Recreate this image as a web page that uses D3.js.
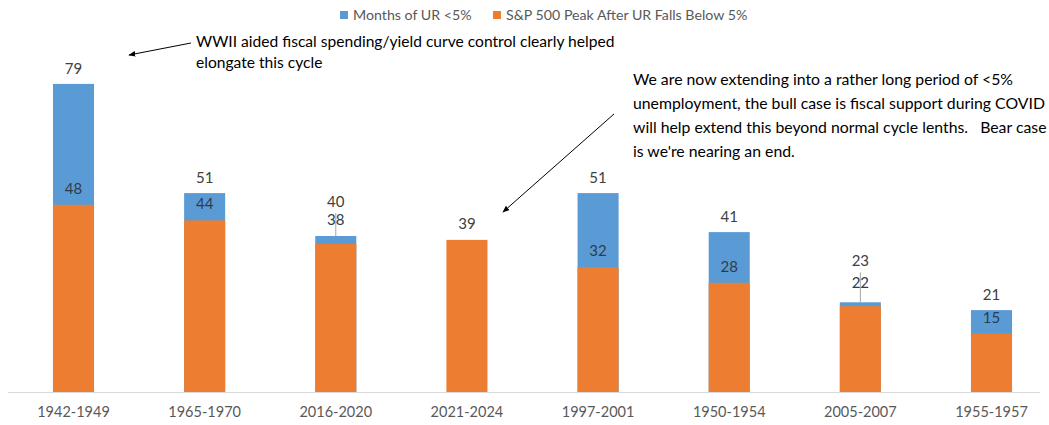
<!DOCTYPE html>
<html>
<head>
<meta charset="utf-8">
<script src="https://cdn.jsdelivr.net/npm/d3@7"></script>
<style>
  body { margin: 0; background: #fff; }
  svg text { font-family: Lato, "Open Sans", sans-serif; }
</style>
</head>
<body>
<div id="chartContainer"></div>
<script>
const periods = ["1942-1949", "1965-1970", "2016-2020", "2021-2024", "1997-2001", "1950-1954", "2005-2007", "1955-1957"];
const monthsUR = [79, 51, 40, null, 51, 41, 23, 21];
const spxPeak = [48, 44, 38, 39, 32, 28, 22, 15];
const seriesNames = ["Months of UR <5%", "S&P 500 Peak After UR Falls Below 5%"];
const noteWWII = ["WWII aided fiscal spending/yield curve control clearly helped", "elongate this cycle"];
const noteCovid = [
    "We are now extending into a rather long period of <5%",
    "unemployment, the bull case is fiscal support during COVID",
    "will help extend this beyond normal cycle lenths.   Bear case",
    "is we're nearing an end."
];

const blue = "#5B9BD5";
const orange = "#ED7D31";

function renderChart() {
    const width = 1049, height = 425;
    const baseY = 392;

    const svg = d3.select("#chartContainer")
        .append("svg")
        .attr("width", width)
        .attr("height", height);

    const x = d3.scaleBand()
        .domain(periods)
        .range([8, 1057])
        .paddingInner(0.687)
        .paddingOuter(0.343);

    const y = d3.scaleLinear()
        .domain([0, 80])
        .range([baseY, 80]);

    const data = periods.map((p, i) => ({ period: p, months: monthsUR[i], peak: spxPeak[i] }));

    // labels that were pulled apart by hand in the original
    const lift = { "2016-2020": [19, 8], "2005-2007": [26, 7] };

    // axis line
    svg.append("line")
        .attr("x1", 8).attr("x2", 1040)
        .attr("y1", baseY + 0.5).attr("y2", baseY + 0.5)
        .attr("stroke", "#d9d9d9");

    svg.selectAll(".bar-blue")
        .data(data.filter(d => d.months != null))
        .enter().append("rect")
        .attr("class", "bar-blue")
        .attr("x", d => x(d.period))
        .attr("width", x.bandwidth())
        .attr("y", d => y(d.months))
        .attr("height", d => baseY - y(d.months))
        .attr("fill", blue);

    svg.selectAll(".bar-orange")
        .data(data)
        .enter().append("rect")
        .attr("class", "bar-orange")
        .attr("x", d => x(d.period))
        .attr("width", x.bandwidth())
        .attr("y", d => y(d.peak))
        .attr("height", d => baseY - y(d.peak))
        .attr("fill", orange);

    // leader lines for the nudged labels
    svg.selectAll(".leader")
        .data(data.filter(d => lift[d.period]))
        .enter().append("line")
        .attr("x1", d => x(d.period) + x.bandwidth() / 2)
        .attr("x2", d => x(d.period) + x.bandwidth() / 2)
        .attr("y1", d => y(d.months) - 10 - lift[d.period][0] + 6)
        .attr("y2", d => y(d.months))
        .attr("stroke", "#a6a6a6")
        .attr("stroke-width", 1);

    svg.selectAll(".lbl-blue")
        .data(data.filter(d => d.months != null))
        .enter().append("text")
        .attr("x", d => x(d.period) + x.bandwidth() / 2)
        .attr("y", d => y(d.months) - 10 - (lift[d.period] ? lift[d.period][0] : 0))
        .attr("text-anchor", "middle")
        .attr("font-size", 15)
        .attr("fill", "#404040")
        .text(d => d.months);

    svg.selectAll(".lbl-orange")
        .data(data)
        .enter().append("text")
        .attr("x", d => x(d.period) + x.bandwidth() / 2)
        .attr("y", d => y(d.peak) - 11 - (lift[d.period] ? lift[d.period][1] : 0))
        .attr("text-anchor", "middle")
        .attr("font-size", 15)
        .attr("fill", d => d.months != null ? "#2f3b4a" : "#404040")
        .text(d => d.peak);

    // category labels
    svg.selectAll(".cat")
        .data(periods)
        .enter().append("text")
        .attr("x", d => x(d) + x.bandwidth() / 2)
        .attr("y", 417)
        .attr("text-anchor", "middle")
        .attr("font-size", 14.5)
        .attr("fill", "#595959")
        .text(d => d);

    // legend
    const legend = svg.append("g").attr("transform", "translate(340,16)");
    const legendX = [0, 153];
    [blue, orange].forEach((c, i) => {
        legend.append("rect")
            .attr("x", legendX[i]).attr("y", -5)
            .attr("width", 8).attr("height", 8)
            .attr("fill", c);
        legend.append("text")
            .attr("x", legendX[i] + 13).attr("y", 4)
            .attr("font-size", 14.2)
            .attr("fill", "#595959")
            .text(seriesNames[i]);
    });

    // annotations
    const defs = svg.append("defs");
    defs.append("marker")
        .attr("id", "arrow")
        .attr("viewBox", "0 0 10 10")
        .attr("refX", 9).attr("refY", 5)
        .attr("markerWidth", 7).attr("markerHeight", 7)
        .attr("orient", "auto")
        .append("path")
        .attr("d", "M0,1 L10,5 L0,9 Z")
        .attr("fill", "#000");

    svg.append("line")
        .attr("x1", 191).attr("y1", 43)
        .attr("x2", 129).attr("y2", 55)
        .attr("stroke", "#000").attr("stroke-width", 1)
        .attr("marker-end", "url(#arrow)");

    svg.append("line")
        .attr("x1", 614).attr("y1", 114)
        .attr("x2", 503).attr("y2", 212)
        .attr("stroke", "#000").attr("stroke-width", 1)
        .attr("marker-end", "url(#arrow)");

    svg.append("text")
        .attr("font-size", 15.6)
        .attr("fill", "#000")
        .selectAll("tspan")
        .data(noteWWII)
        .enter().append("tspan")
        .attr("x", 196)
        .attr("y", (d, i) => 47 + i * 21)
        .text(d => d);

    svg.append("text")
        .attr("font-size", 15.8)
        .attr("fill", "#000")
        .attr("xml:space", "preserve")
        .style("white-space", "pre")
        .selectAll("tspan")
        .data(noteCovid)
        .enter().append("tspan")
        .attr("x", 633)
        .attr("y", (d, i) => 85 + i * 24)
        .text(d => d);
}

renderChart();
</script>
</body>
</html>
